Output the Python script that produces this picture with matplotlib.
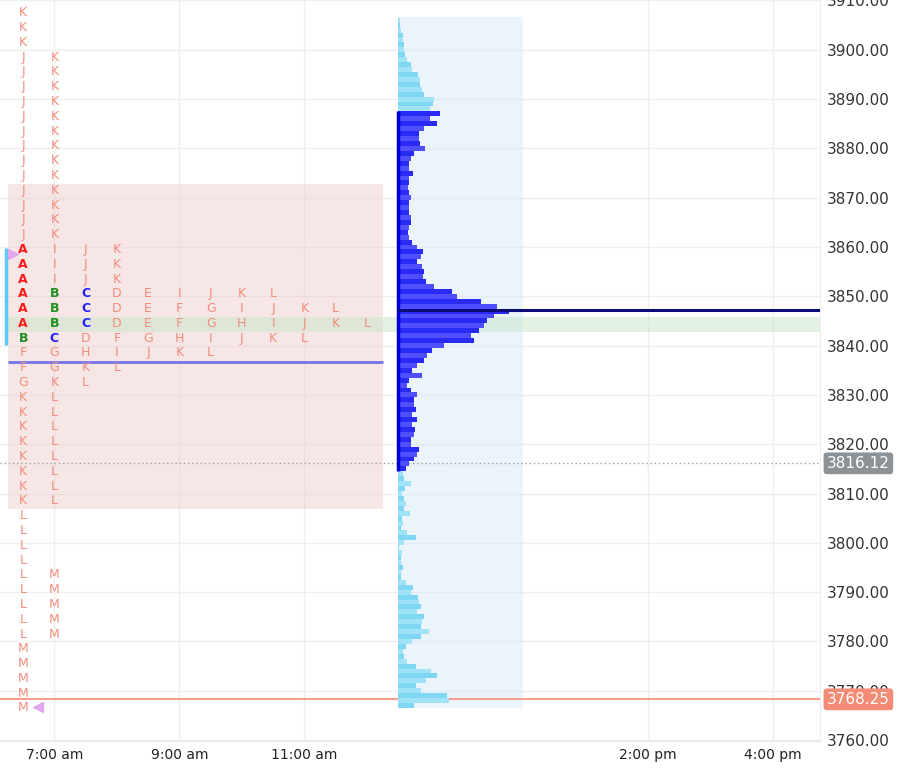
import numpy as np
import matplotlib
matplotlib.use("Agg")
import matplotlib.pyplot as plt
from matplotlib.transforms import blended_transform_factory

# TPO letters, one string per row (top row first); a letter's column is its index in the string
tpo_rows = (["K"] * 3 + ["JK"] * 13 + ["AIJK"] * 3 +
            ["ABCDEIJKL", "ABCDEFGIJKL", "ABCDEFGHIJKL", "BCDFGHIJKL",
             "FGHIJKL", "FGKL", "GKL"] +
            ["KL"] * 8 + ["L"] * 4 + ["LM"] * 5 + ["M"] * 5)
tpo_top = 3907.5
tpo_step = 3.0

# volume profile, one value per price point, from 3767 up to 3906
vol_prices = np.arange(3767, 3907)
vol = [16, 51, 49, 23, 18, 28, 39, 33, 18, 9,
       6, 5, 8, 14, 23, 31, 23, 24, 26, 19,
       23, 21, 20, 13, 15, 8, 3, 3, 5, 3,
       3, 4, 1, 6, 18, 9, 3, 5, 4, 12,
       6, 8, 6, 4, 7, 13, 6, 5, 8, 11,
       16, 19, 21, 13, 13, 16, 17, 14, 19, 14,
       18, 16, 16, 19, 13, 9, 11, 24, 14, 19,
       26, 29, 34, 46, 76, 73, 81, 86, 89, 96,
       111, 99, 83, 59, 54, 36, 28, 25, 26, 24,
       19, 23, 25, 19, 14, 11, 10, 11, 13, 13,
       11, 11, 11, 13, 11, 10, 11, 11, 15, 11,
       11, 13, 16, 27, 22, 21, 21, 26, 39, 32,
       42, 32, 35, 36, 26, 24, 22, 22, 20, 14,
       13, 9, 7, 6, 6, 5, 4.5, 3, 2, 1.5]
vol_va_low = 3815
vol_va_high = 3887
vol_poc = 3847.25

# TPO levels
tpo_va_low = 3806.9
tpo_va_high = 3872.8
tpo_poc_low = 3842.8
tpo_poc_high = 3845.8
tpo_mid = 3836.7
ib_low = 3840.2
ib_high = 3859.8
open_price = 3858.6
low_price = 3766.6

last_price = 3768.25
marker_price = 3816.12

time_ticks = [1, 5, 9, 20, 24]
time_labels = ["7:00 am", "9:00 am", "11:00 am", "2:00 pm", "4:00 pm"]
price_ticks = np.arange(3760, 3911, 10)

letter_colors = {"A": "#ff1a1a", "B": "#1e8f1e", "C": "#1f1fff"}
salmon = "#f28c7c"


def draw_tpo(ax):
    ax.add_patch(plt.Rectangle((-0.5, tpo_va_low), 12, tpo_va_high - tpo_va_low,
                               facecolor="#efc9c9", alpha=0.45, lw=0, zorder=1))
    ax.add_patch(plt.Rectangle((-0.5, tpo_poc_low), 27, tpo_poc_high - tpo_poc_low,
                               facecolor="#c8e6c9", alpha=0.5, lw=0, zorder=1.1))
    ax.hlines(tpo_mid, -0.5, 11.5, color="#7474f2", lw=2, zorder=3)
    ax.vlines(-0.56, ib_low, ib_high, color="#5cc8f4", lw=2.5, zorder=3)
    for i, row in enumerate(tpo_rows):
        price = tpo_top - i * tpo_step
        for j, ch in enumerate(row):
            if ch in letter_colors:
                ax.text(j, price, ch, ha="center", va="center", fontsize=9,
                        color=letter_colors[ch], fontweight="bold", zorder=4)
            else:
                ax.text(j, price, ch, ha="center", va="center", fontsize=9,
                        color=salmon, zorder=4)
    ax.plot(-0.33, open_price, marker=">", color="#e3a6ef", ms=7, zorder=5)
    ax.plot(0.47, low_price, marker="<", color="#e3a6ef", ms=7, zorder=5)


def draw_volume(ax):
    left = 12
    scale = 1 / 31.25
    ax.add_patch(plt.Rectangle((left, 3766.5), 4, 3906.7 - 3766.5,
                               facecolor="#d3e6f8", alpha=0.45, lw=0, zorder=1))
    colors = []
    for p in vol_prices:
        if vol_va_low <= p <= vol_va_high:
            colors.append("#2a2af6" if p % 2 else "#4f4fff")
        else:
            colors.append("#7fd7f4" if p % 2 else "#a0e3f8")
    ax.barh(vol_prices, np.array(vol) * scale, left=left, height=1.0,
            color=colors, lw=0, zorder=2)
    ax.vlines(left - 0.02, vol_va_low - 0.5, vol_va_high + 0.5, color="#0000d0",
              lw=2.5, zorder=3)
    ax.hlines(vol_poc, left, 26, color="#0b0b7a", lw=2.2, zorder=3)


def main():
    fig = plt.figure(figsize=(9.05, 7.69), dpi=100)
    ax = fig.add_axes([0, 28 / 769, 820 / 905, 741 / 769])
    ax.set_xlim(-0.74, 25.5)
    ax.set_ylim(3759.8, 3910.1)

    ax.axhline(marker_price, color="#a0a0a0", lw=1, ls=(0, (1, 2)), zorder=1.5)
    ax.axhline(last_price, color="#f5a08f", lw=1.5, zorder=1.5)
    draw_tpo(ax)
    draw_volume(ax)

    ax.set_xticks(time_ticks)
    ax.set_xticklabels(time_labels)
    ax.set_yticks(price_ticks)
    ax.set_yticklabels(["%.2f" % p for p in price_ticks])
    ax.yaxis.tick_right()
    ax.tick_params(axis="y", length=0, pad=5, labelsize=11, labelcolor="#333333")
    ax.tick_params(axis="x", length=0, pad=5, labelsize=10, labelcolor="#222222")
    ax.grid(True, color="#efefef", lw=1)
    ax.set_axisbelow(True)
    for s in ["top", "left"]:
        ax.spines[s].set_visible(False)
    ax.spines["right"].set_color("#eeeeee")
    ax.spines["bottom"].set_color("#e8e8e8")

    trans = blended_transform_factory(ax.transAxes, ax.transData)
    for price, bg in [(marker_price, "#8d9296"), (last_price, "#f48b74")]:
        ax.annotate("%.2f" % price, xy=(1, price), xycoords=trans,
                    xytext=(5, 0), textcoords="offset points", ha="left",
                    va="center", fontsize=11, color="white", zorder=10,
                    annotation_clip=False,
                    bbox=dict(boxstyle="round,pad=0.22", fc=bg, ec="none"))

    fig.savefig("out.png", dpi=100)


main()
